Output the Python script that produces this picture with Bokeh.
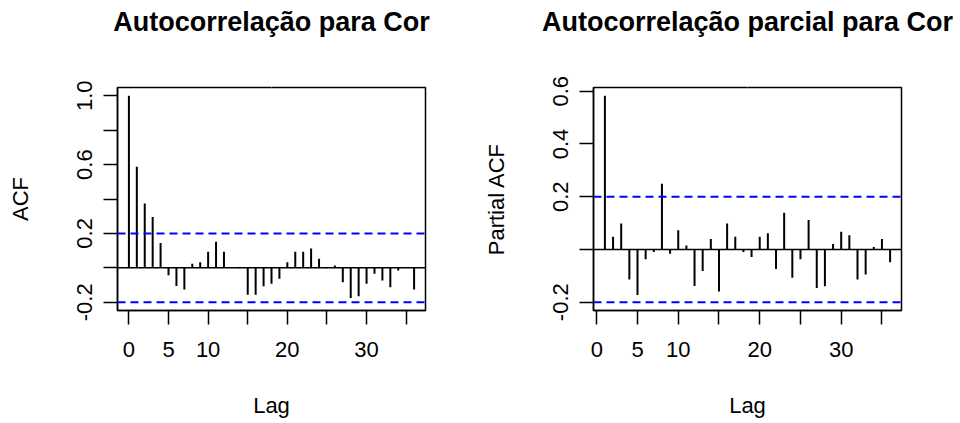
from bokeh.plotting import figure
from bokeh.models import Range1d, FixedTicker, Span, Title, ColumnDataSource, LinearAxis
from bokeh.layouts import row
from bokeh.embed import file_html
from bokeh.resources import INLINE

# ---------------- data ----------------
acf_lags = list(range(0, 37))
acf_values = [1.0, 0.587, 0.374, 0.296, 0.144, -0.043, -0.105, -0.126, 0.023, 0.033,
              0.093, 0.152, 0.093, 0.004, -0.003, -0.156, -0.156, -0.107, -0.093, -0.064,
              0.033, 0.093, 0.093, 0.113, 0.053, -0.003, 0.014, -0.084, -0.175, -0.165,
              -0.093, -0.035, -0.074, -0.113, -0.016, 0.003, -0.126]
pacf_lags = list(range(1, 37))
pacf_values = [0.583, 0.048, 0.098, -0.114, -0.173, -0.037, -0.010, 0.249, -0.016, 0.073,
               0.015, -0.139, -0.082, 0.040, -0.160, 0.098, 0.048, -0.010, -0.029, 0.048,
               0.061, -0.074, 0.139, -0.107, -0.037, 0.112, -0.146, -0.140, 0.021, 0.067,
               0.054, -0.114, -0.095, 0.009, 0.040, -0.049]
conf_limit = 0.2

x_ticks = [0, 5, 10, 15, 20, 25, 30, 35]
x_tick_labels = ["0", "5", "10", "", "20", "", "30", ""]
acf_y_ticks = [-0.2, 0.0, 0.2, 0.4, 0.6, 0.8, 1.0]
acf_y_labels = ["-0.2", "", "0.2", "", "0.6", "", "1.0"]
pacf_y_ticks = [-0.2, 0.0, 0.2, 0.4, 0.6]
pacf_y_labels = ["-0.2", "", "0.2", "0.4", "0.6"]

titles = ["Autocorrelação para Cor", "Autocorrelação parcial para Cor"]
y_labels = ["ACF", "Partial ACF"]
x_label = "Lag"

FONT = "Liberation Sans"


def make_fig(title, ylabel, lags, vals, xr, yr, yticks, ylabs, borders):
    left, right, top, bottom = borders
    p = figure(width=480, height=423, output_backend="svg", toolbar_location=None,
               title=None,
               x_range=Range1d(*xr), y_range=Range1d(*yr),
               min_border_left=left, min_border_right=right,
               min_border_top=top, min_border_bottom=bottom)
    p.background_fill_color = "white"
    p.border_fill_color = "white"
    p.grid.visible = False
    p.outline_line_color = "black"
    p.outline_line_width = 1.5

    src = ColumnDataSource(dict(lag=lags, val=vals, zero=[0] * len(lags)))
    p.segment(x0="lag", y0="zero", x1="lag", y1="val", source=src,
              line_color="black", line_width=2)

    p.add_layout(Span(location=0, dimension="width", line_color="black", line_width=1.5))
    for loc in (conf_limit, -conf_limit):
        p.add_layout(Span(location=loc, dimension="width", line_color="#0000ff",
                          line_width=2, line_dash="8 5"))

    for ax in (p.xaxis[0], p.yaxis[0]):
        ax.major_tick_in = 0
        ax.major_tick_out = 14
        ax.minor_tick_line_color = None
        ax.axis_line_color = "black"
        ax.axis_line_width = 1.5
        ax.major_tick_line_color = "black"
        ax.major_tick_line_width = 1.5
        ax.major_label_text_font = FONT
        ax.major_label_text_font_size = "22px"
        ax.major_label_text_color = "black"
        ax.axis_label_text_font = FONT
        ax.axis_label_text_font_size = "22px"
        ax.axis_label_text_font_style = "normal"
        ax.axis_label_text_color = "black"

    xa = p.xaxis[0]
    xa.ticker = FixedTicker(ticks=x_ticks)
    xa.major_label_overrides = {t: s for t, s in zip(x_ticks, x_tick_labels)}
    xa.major_label_standoff = 17
    xa.axis_label = x_label
    xa.axis_label_standoff = 33

    ya = p.yaxis[0]
    ya.ticker = FixedTicker(ticks=yticks)
    ya.major_label_overrides = {t: s for t, s in zip(yticks, ylabs)}
    ya.major_label_orientation = "parallel"
    ya.major_label_standoff = 11
    ya.axis_label = ylabel
    ya.axis_label_standoff = 42

    # blank spacer panel (white tick on white border) between the frame and the title
    spacer = LinearAxis(ticker=FixedTicker(ticks=[(xr[0] + xr[1]) / 2]),
                        major_tick_in=0, major_tick_out=51,
                        minor_tick_in=0, minor_tick_out=0,
                        axis_line_color=None, major_tick_line_color="white",
                        major_tick_line_width=0.5,
                        minor_tick_line_color=None, major_label_text_color=None,
                        major_label_text_font_size="1px", major_label_standoff=0)
    p.add_layout(spacer, "above")
    p.add_layout(Title(text=title, align="center", vertical_align="bottom", standoff=0,
                       text_font=FONT, text_font_style="bold", text_font_size="27px",
                       text_color="black"), "above")
    return p


p1 = make_fig(titles[0], y_labels[0], acf_lags, acf_values,
              (-1.44, 37.44), (-0.248, 1.048), acf_y_ticks, acf_y_labels,
              (117, 55, 87, 113))
p2 = make_fig(titles[1], y_labels[1], pacf_lags, pacf_values,
              (-0.4, 37.4), (-0.2316, 0.6143), pacf_y_ticks, pacf_y_labels,
              (113, 59, 87, 113))

layout = row(p1, p2)
open("out.html", "w").write(file_html(layout, INLINE))
